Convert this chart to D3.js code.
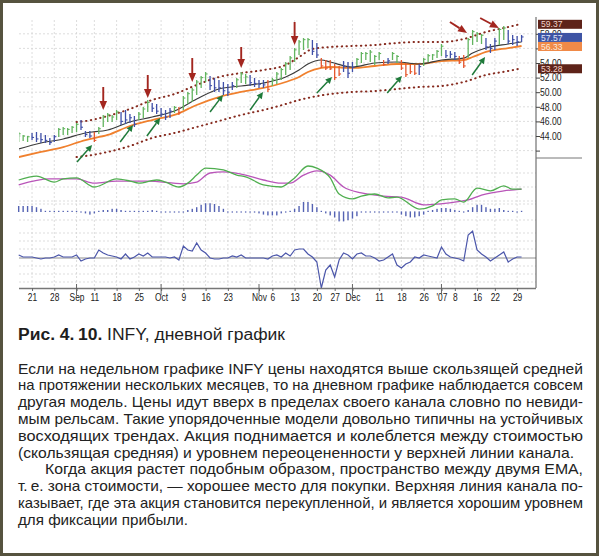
<!DOCTYPE html>
<html>
<head>
<meta charset="utf-8">
<script src="https://cdn.jsdelivr.net/npm/d3@7"></script>
<style>
  html, body { margin: 0; padding: 0; background: #fff; }
  svg { display: block; }
</style>
</head>
<body>
<script>
// INFY daily chart (Aug 16 2006 .. Jan 30 2007), one entry per trading day
const barHigh = [44.55,44.14,44.00,44.41,44.55,44.41,44.14,43.73,44.14,45.10,
  45.23,45.10,45.37,45.78,46.19,44.68,44.68,44.55,45.23,46.88,
  47.15,46.88,47.56,47.29,47.56,47.01,46.74,47.29,47.97,48.93,
  48.52,48.38,47.84,47.56,47.84,48.11,47.97,49.48,50.03,50.58,
  51.67,52.22,52.77,52.22,51.95,51.67,51.40,51.12,51.40,51.95,
  52.77,52.49,52.36,51.95,51.67,51.67,51.67,51.95,52.77,53.32,
  54.14,54.96,56.05,57.15,57.42,57.42,57.15,56.74,54.68,54.41,
  54.41,53.86,53.59,54.27,54.14,54.14,54.68,55.51,55.51,55.78,
  55.10,55.51,54.41,54.68,55.51,55.10,54.41,54.00,53.86,53.73,
  53.86,54.68,55.23,55.23,55.78,56.60,55.78,55.64,55.51,54.96,
  55.10,57.42,58.52,58.25,57.97,57.42,56.60,57.42,58.79,59.07,
  58.52,57.84,57.70,57.84];
const barLow = [43.18,43.32,43.18,43.45,43.18,43.04,43.04,42.77,43.18,43.86,
  44.14,44.14,44.41,44.55,44.82,43.86,43.73,43.18,44.27,45.23,
  45.92,45.92,46.19,45.51,45.64,45.78,45.23,46.19,46.47,47.29,
  47.29,47.01,46.60,46.19,46.47,47.15,46.88,47.56,48.38,48.66,
  49.62,50.58,51.40,50.30,50.03,50.03,49.62,49.48,50.30,50.58,
  51.26,51.12,50.85,50.71,50.58,50.58,50.03,50.85,51.12,51.67,
  52.36,53.04,54.14,55.10,55.78,56.05,55.10,54.68,53.32,53.04,
  53.04,51.67,52.22,52.77,51.95,52.77,53.59,54.00,54.41,54.14,
  53.73,54.41,53.59,53.86,54.41,54.00,53.04,52.08,52.49,52.36,
  52.36,53.59,54.14,54.41,54.68,54.96,54.68,54.68,54.41,53.86,
  53.32,54.68,56.47,56.88,56.60,55.78,55.37,55.78,56.47,57.15,
  56.60,56.47,56.33,56.88];
const barClose = [44.3,44.0,43.9,43.8,43.6,43.5,43.4,43.1,43.9,44.9,
  45.0,44.9,45.2,45.6,45.2,44.2,44.0,43.4,45.0,46.6,
  46.9,46.6,47.3,46.0,46.2,46.5,45.6,47.0,47.7,48.6,
  47.8,47.4,47.0,46.6,47.4,47.9,47.2,49.2,49.8,50.3,
  51.4,52.0,52.5,50.9,50.6,50.6,50.2,50.0,50.9,51.7,
  52.5,52.1,51.3,51.2,51.1,51.0,50.4,51.7,52.5,53.1,
  53.9,54.7,55.8,56.9,57.2,57.2,55.6,55.1,53.6,53.3,
  53.2,52.0,52.5,53.5,52.6,53.4,54.5,55.3,55.3,55.5,
  54.9,55.3,53.8,54.3,55.3,54.9,53.3,52.4,52.8,52.6,
  53.5,54.5,55.0,55.1,55.6,56.3,55.0,55.2,54.9,54.1,
  53.6,57.2,58.3,58.0,57.8,56.2,56.0,57.0,58.6,58.8,
  57.0,57.2,56.9,57.57];
// impulse colour of each bar: g = green, b = blue, r = red
const barImpulse = "gggbbbbbbgggggbbbrgggggbbbbgggbbbbbgrggggggbbbbbbgggbbbbrgggggggggbbrrrrrbbbggggggrbggrrrrbgggggbbbrrggggbbbggbbbb";

// moving averages, read at sample days
const emaIdx  = [0,5,10,15,20,25,30,35,40,45,50,55,60,63,65,68,70,75,80,85,90,95,100,102,105,110,113];
const emaFast = [42.22,43.04,43.59,44.41,44.82,45.92,46.60,47.42,49.07,50.44,50.85,51.26,52.08,53.04,53.86,54.41,54.14,53.45,54.00,54.14,53.86,54.41,54.68,55.37,56.05,56.60,56.88];
const emaSlow = [41.12,41.81,42.49,43.45,44.14,45.37,46.19,46.88,48.25,49.34,50.03,50.58,51.40,52.08,52.77,53.32,53.45,53.32,53.59,53.86,53.86,54.27,54.41,54.82,55.51,56.05,56.33];

// envelope channel
const chanIdx   = [13,15,20,25,30,35,40,45,50,55,60,63,66,70,75,80,85,90,95,100,105,110,113];
const chanUpper = [45.92,46.05,46.74,47.70,48.93,49.75,50.99,52.08,52.63,53.04,53.73,54.82,55.92,56.19,56.33,56.47,56.74,56.88,56.88,57.29,58.25,58.93,59.37];
const chanLower = [41.12,41.26,41.81,42.63,43.73,44.41,45.23,46.05,46.88,47.56,48.38,48.93,49.34,49.75,50.03,50.16,50.44,50.71,50.85,51.40,52.36,52.90,53.28];

// MACD lines
const macdIdx  = [0,4,8,10,13,17,22,25,27,31,33,36,38,40,42,46,49,51,55,59,60,62,65,67,70,72,75,77,80,83,85,90,93,95,98,100,103,106,109,111,113];
const macdLine = [1.00,1.11,0.94,1.03,1.06,0.80,1.03,0.97,0.91,1.00,0.94,0.80,0.91,1.14,1.34,1.29,1.14,1.09,0.86,0.80,0.86,1.06,1.40,1.34,1.06,0.60,0.46,0.54,0.60,0.49,0.51,0.17,0.26,0.43,0.46,0.37,0.77,0.69,0.83,0.74,0.74];
const signalIdx  = [0,7,13,17,22,29,37,40,43,46,51,55,59,61,64,67,70,73,77,82,86,91,94,98,101,104,109,113];
const signalLine = [0.86,1.03,1.03,0.91,0.97,0.97,0.89,0.94,1.20,1.23,1.14,1.00,0.91,0.91,1.14,1.26,1.14,0.80,0.63,0.54,0.51,0.29,0.31,0.37,0.43,0.57,0.69,0.74];

// MACD histogram, one per day
const macdHist = [0.15,0.15,0.15,0.15,0.12,0.08,0.03,0.03,0.03,0.03,
  0.03,0.03,0.03,0.03,0,-0.05,-0.08,-0.05,0.03,0.05,
  0.05,0.08,0.08,0.05,0.03,0.03,0.03,0.03,0.03,0.03,
  0.05,0.03,0,-0.03,-0.03,-0.03,-0.03,0,0.05,0.08,
  0.12,0.18,0.22,0.22,0.2,0.15,0.08,-0.03,-0.03,-0.03,
  -0.03,-0.03,-0.03,-0.03,-0.05,-0.08,-0.1,-0.1,-0.1,-0.05,
  -0.03,0.03,0.08,0.15,0.25,0.25,0.2,0.12,0.03,-0.05,
  -0.1,-0.15,-0.25,-0.25,-0.22,-0.18,-0.12,-0.03,0,-0.03,
  -0.03,-0.03,-0.03,-0.03,-0.03,-0.03,-0.08,-0.12,-0.15,-0.15,
  -0.12,-0.08,0.03,0.05,0.08,0.1,0.1,0.08,0.05,0.03,
  0,0.05,0.12,0.18,0.18,0.12,0.08,0.08,0.1,0.05,
  0.03,0.03,0,0.03];

// force index, one per day
const forceIndex = [3,1,1,1,0,-1,0,0,1,3,
  1,1,1,3,-3,-1,0,0,8,5,
  3,2,1,-1,4,-1,1,4,2,5,
  1,1,1,1,0,1,-2,12,8,7,
  15,8,5,0,-1,-1,0,0,2,1,
  3,0,0,0,0,0,-1,2,3,1,
  5,2,8,9,9,4,1,-4,-30,-12,
  -7,-19,-2,5,3,-1,4,5,2,2,
  0,-3,-2,1,4,-7,-10,-6,-4,1,
  0,3,2,1,0,11,4,1,0,-1,
  -3,23,27,8,4,1,-3,0,3,6,
  -4,-1,1,1];

// annotation arrows: [fromDay, fromPrice, toDay, toPrice]
const redArrows = [[19,50.71,19,47.56],[29,52.36,29,49.21],[39,54.68,39,51.40],[50,56.19,50,53.32],[62,59.62,62,56.47],
  [96.9,59.62,100.75,58.11],[103.7,60.16,107.9,58.79]];
const greenArrows = [[13.1,40.44,16.5,42.77],[22.8,43.18,25.7,45.51],[28.8,44.0,31.8,46.47],[43,47.29,45.9,49.62],
  [52,47.56,54.9,50.03],[67,49.89,70.4,52.08],[82.8,49.89,86.1,52.22],[101.9,52.36,104.8,54.82]];

// axes
const tickIdx   = [3,8,13,17,22,27,32,37,42,47,54,57,62,67,71,75,81,86,91,95,98,103,107,112];
const tickLabel = ["21","28","Sep","11","18","25","Oct","9","16","23","Nov","6","13","20","27","Dec","11","18","26","'07","8","16","22","29"];
const monthIdx  = [13,32,54,75,95];
const gridIdx   = [3,8,13,17,22,27,32,37,42,47,52,57,62,67,71,75,81,86,91,95,98,103,107,112];
const priceTicks = [42,44,46,48,50,52,54,56,58];
const priceLabels = [44,46,48,50,52,54,58];   // 42 and 56 carry no visible label

const FONT = "'Liberation Sans', Arial, Helvetica, sans-serif";
const COLORS = { g: '#62b45f', b: '#3f4fa8', r: '#e5572e' };

const svg = d3.select('body').append('svg')
    .attr('width', 600)
    .attr('height', 559)
    .style('font-family', FONT);

svg.append('rect').attr('width', 600).attr('height', 559).attr('fill', '#fff');

// Scales
const x = d3.scaleLinear().domain([-0.2, 116.4]).range([17.8, 536.7]);
const yPrice = d3.scaleLinear().domain([41, 60]).range([157.9, 19.2]);
const yMacd = d3.scaleLinear().domain([0, 1.6]).range([215, 159]);
const yHist = d3.scaleLinear().domain([-0.3, 0.3]).range([224, 200]);
const yForce = d3.scaleLinear().domain([-30, 35]).range([288, 223]);

const LEFT = 19, RIGHT = 536, TOP = 20, BOTTOM = 288;

function condense(sel, k) {
    sel.each(function () {
        const w = this.getComputedTextLength();
        if (w > 0) d3.select(this).attr('textLength', w * k).attr('lengthAdjust', 'spacingAndGlyphs');
    });
}

// Grid
const grid = svg.append('g').attr('stroke', '#d4d4d4').attr('stroke-width', 0.8).attr('stroke-dasharray', '2,2');
grid.selectAll('.hp').data(priceTicks).enter().append('line')
    .attr('x1', LEFT).attr('x2', RIGHT)
    .attr('y1', d => yPrice(d)).attr('y2', d => yPrice(d));
grid.selectAll('.hm').data([0.4, 0.8, 1.2]).enter().append('line')
    .attr('x1', LEFT).attr('x2', RIGHT)
    .attr('y1', d => yMacd(d)).attr('y2', d => yMacd(d));
grid.selectAll('.hh').data([-0.2, 0.2]).enter().append('line')
    .attr('x1', LEFT).attr('x2', RIGHT)
    .attr('y1', d => yHist(d)).attr('y2', d => yHist(d));
grid.selectAll('.hf').data([-24, -16, -8, 9, 17, 25]).enter().append('line')
    .attr('x1', LEFT).attr('x2', RIGHT)
    .attr('y1', d => yForce(d)).attr('y2', d => yForce(d));
grid.selectAll('.v').data(gridIdx).enter().append('line')
    .attr('x1', d => x(d)).attr('x2', d => x(d))
    .attr('y1', TOP).attr('y2', BOTTOM);

// Price panel
svg.append('clipPath').attr('id', 'clip-price')
    .append('rect').attr('x', LEFT).attr('y', 17).attr('width', RIGHT - LEFT).attr('height', 141);
const price = svg.append('g').attr('clip-path', 'url(#clip-price)');

const chanData = (vals) => chanIdx.map((d, i) => [d, vals[i]]);
const priceLine = d3.line().x(d => x(d[0])).y(d => yPrice(d[1])).curve(d3.curveMonotoneX);

[chanUpper, chanLower].forEach(vals => {
    price.append('path')
        .attr('d', priceLine(chanData(vals)))
        .attr('fill', 'none')
        .attr('stroke', '#862a1e')
        .attr('stroke-width', 2)
        .attr('stroke-linecap', 'round')
        .attr('stroke-dasharray', '0.4,4.4');
});

price.append('path')
    .attr('d', priceLine(emaIdx.map((d, i) => [d, emaSlow[i]])))
    .attr('fill', 'none').attr('stroke', '#f0802e').attr('stroke-width', 1.8);
price.append('path')
    .attr('d', priceLine(emaIdx.map((d, i) => [d, emaFast[i]])))
    .attr('fill', 'none').attr('stroke', '#3a3a3a').attr('stroke-width', 1.2);

const bars = barHigh.map((h, i) => ({ i, h, l: barLow[i], c: barClose[i], col: COLORS[barImpulse[i]] }));
const barG = price.append('g').selectAll('g').data(bars).enter().append('g');
barG.append('line')
    .attr('x1', d => x(d.i)).attr('x2', d => x(d.i))
    .attr('y1', d => yPrice(d.h)).attr('y2', d => yPrice(d.l))
    .attr('stroke', d => d.col).attr('stroke-width', 1.3);
barG.append('line')
    .attr('x1', d => x(d.i)).attr('x2', d => x(d.i) + 2)
    .attr('y1', d => yPrice(d.c)).attr('y2', d => yPrice(d.c))
    .attr('stroke', d => d.col).attr('stroke-width', 1.1);

// MACD lines
const macdPath = d3.line().x(d => x(d[0])).y(d => yMacd(d[1])).curve(d3.curveMonotoneX);
svg.append('path')
    .attr('d', macdPath(signalIdx.map((d, i) => [d, signalLine[i]])))
    .attr('fill', 'none').attr('stroke', '#b955b9').attr('stroke-width', 1.3);
svg.append('path')
    .attr('d', macdPath(macdIdx.map((d, i) => [d, macdLine[i]])))
    .attr('fill', 'none').attr('stroke', '#4fae4f').attr('stroke-width', 1.3);

// MACD histogram
svg.append('g').selectAll('rect').data(macdHist).enter().append('rect')
    .attr('x', (d, i) => x(i) - 0.7)
    .attr('width', 1.4)
    .attr('y', d => Math.min(yHist(d), yHist(0) - 0.6))
    .attr('height', d => Math.max(Math.abs(yHist(d) - yHist(0)), 1.2))
    .attr('fill', '#5563b3');

// Force index
svg.append('line')
    .attr('x1', LEFT).attr('x2', RIGHT)
    .attr('y1', yForce(0)).attr('y2', yForce(0))
    .attr('stroke', '#b4b4b4').attr('stroke-width', 1.6);
svg.append('path')
    .attr('d', d3.line().x((d, i) => x(i)).y(d => yForce(d))(forceIndex))
    .attr('fill', 'none').attr('stroke', '#4b56aa').attr('stroke-width', 1.2);

// Arrows
function arrow(g, x1, y1, x2, y2, color, head, half, sw) {
    const dx = x2 - x1, dy = y2 - y1, len = Math.hypot(dx, dy);
    const ux = dx / len, uy = dy / len;
    const bx = x2 - ux * head, by = y2 - uy * head;
    g.append('line').attr('x1', x1).attr('y1', y1).attr('x2', bx).attr('y2', by)
        .attr('stroke', color).attr('stroke-width', sw);
    g.append('path')
        .attr('d', `M${x2},${y2}L${bx - uy * half},${by + ux * half}L${bx + uy * half},${by - ux * half}Z`)
        .attr('fill', color);
}
const arrows = svg.append('g');
redArrows.forEach(a => arrow(arrows, x(a[0]), yPrice(a[1]), x(a[2]), yPrice(a[3]), '#a3261f', 9, 3.8, 1.9));
greenArrows.forEach(a => arrow(arrows, x(a[0]), yPrice(a[1]), x(a[2]), yPrice(a[3]), '#1f7a3a', 6.5, 3.2, 1.5));

// Right price axis
svg.append('line').attr('x1', RIGHT).attr('x2', RIGHT).attr('y1', 17).attr('y2', BOTTOM)
    .attr('stroke', '#555').attr('stroke-width', 1);
svg.append('line').attr('x1', RIGHT).attr('x2', 582).attr('y1', 158).attr('y2', 158)
    .attr('stroke', '#777').attr('stroke-width', 1);
const yAxis = svg.append('g')
    .attr('transform', `translate(${RIGHT},0)`)
    .call(d3.axisRight(yPrice).tickValues(priceTicks)
        .tickFormat(d => priceLabels.includes(d) ? d.toFixed(2) : '')
        .tickSize(4).tickPadding(0));
yAxis.select('.domain').remove();
yAxis.selectAll('line').attr('stroke', '#444');
yAxis.selectAll('text').attr('font-size', 10.5).attr('fill', '#222').attr('font-family', FONT)
    .call(condense, 0.82);

// Value boxes
const boxes = [
    { v: chanUpper[chanUpper.length - 1], fill: '#5e2319', text: '#f2d5cc' },
    { v: barClose[barClose.length - 1], fill: '#3e54a4', text: '#e3e8f7' },
    { v: emaSlow[emaSlow.length - 1], fill: '#f08a48', text: '#fde9da' },
    { v: chanLower[chanLower.length - 1], fill: '#5e2319', text: '#f2d5cc' }
];
const boxG = svg.append('g').selectAll('g').data(boxes).enter().append('g');
boxG.append('rect')
    .attr('x', 538).attr('width', 44)
    .attr('y', d => yPrice(d.v) - 4).attr('height', 9)
    .attr('fill', d => d.fill);
boxG.append('text')
    .attr('x', 541).attr('y', d => yPrice(d.v) + 3.6)
    .attr('font-size', 9.5).attr('fill', d => d.text)
    .text(d => d.v.toFixed(2))
    .call(condense, 0.9);

// Bottom time axis
const labelOf = new Map(tickIdx.map((d, i) => [d, tickLabel[i]]));
const xAxis = svg.append('g')
    .attr('transform', `translate(0,${BOTTOM})`)
    .call(d3.axisBottom(x).tickValues(tickIdx).tickFormat(d => labelOf.get(d))
        .tickSize(3).tickSizeOuter(0).tickPadding(3));
xAxis.select('.domain').attr('d', `M${LEFT},0.5H${RIGHT}`).attr('stroke', '#777').attr('stroke-width', 1.3);
xAxis.selectAll('line').attr('stroke', '#666');
xAxis.selectAll('text').attr('font-size', 10.5).attr('fill', '#1a1a1a').attr('font-family', FONT)
    .call(condense, 0.8);
svg.append('g').selectAll('line').data(monthIdx).enter().append('line')
    .attr('x1', d => x(d)).attr('x2', d => x(d))
    .attr('y1', BOTTOM - 4).attr('y2', BOTTOM + 7)
    .attr('stroke', '#666').attr('stroke-width', 1);

// Caption and body text
const caption = svg.append('text').attr('x', 18).attr('y', 339.5)
    .attr('font-size', 16).attr('fill', '#1e1e1e');
caption.append('tspan').attr('font-weight', 'bold').text('Рис. 4.\u200910.');
caption.append('tspan').text(' INFY, дневной график');
caption.attr('textLength', 267).attr('lengthAdjust', 'spacingAndGlyphs');

const bodyLines = [
    { t: 'Если на недельном графике INFY цены находятся выше скользящей средней', x: 18, w: 565 },
    { t: 'на протяжении нескольких месяцев, то на дневном графике наблюдается совсем', x: 18, w: 565 },
    { t: 'другая модель. Цены идут вверх в пределах своего канала словно по невиди-', x: 18, w: 565 },
    { t: 'мым рельсам. Такие упорядоченные модели довольно типичны на устойчивых', x: 18, w: 565 },
    { t: 'восходящих трендах. Акция поднимается и колеблется между стоимостью', x: 18, w: 565 },
    { t: '(скользящая средняя) и уровнем переоцененности у верхней линии канала.', x: 18, w: 556 },
    { t: 'Когда акция растет подобным образом, пространство между двумя EMA,', x: 45, w: 538 },
    { t: 'т.\u2009е. зона стоимости, — хорошее место для покупки. Верхняя линия канала по-', x: 18, w: 565 },
    { t: 'казывает, где эта акция становится перекупленной, и является хорошим уровнем', x: 18, w: 565 },
    { t: 'для фиксации прибыли.', x: 18, w: 170 }
];
svg.append('g').selectAll('text').data(bodyLines).enter().append('text')
    .attr('x', d => d.x)
    .attr('y', (d, i) => 373.5 + i * 16.8)
    .attr('font-size', 15)
    .attr('fill', '#222')
    .attr('textLength', d => d.w)
    .attr('lengthAdjust', 'spacingAndGlyphs')
    .text(d => d.t);

// Page frame
svg.append('rect')
    .attr('x', 1.5).attr('y', 1.5).attr('width', 596).attr('height', 553)
    .attr('fill', 'none').attr('stroke', '#56533f').attr('stroke-width', 3);
</script>
</body>
</html>
